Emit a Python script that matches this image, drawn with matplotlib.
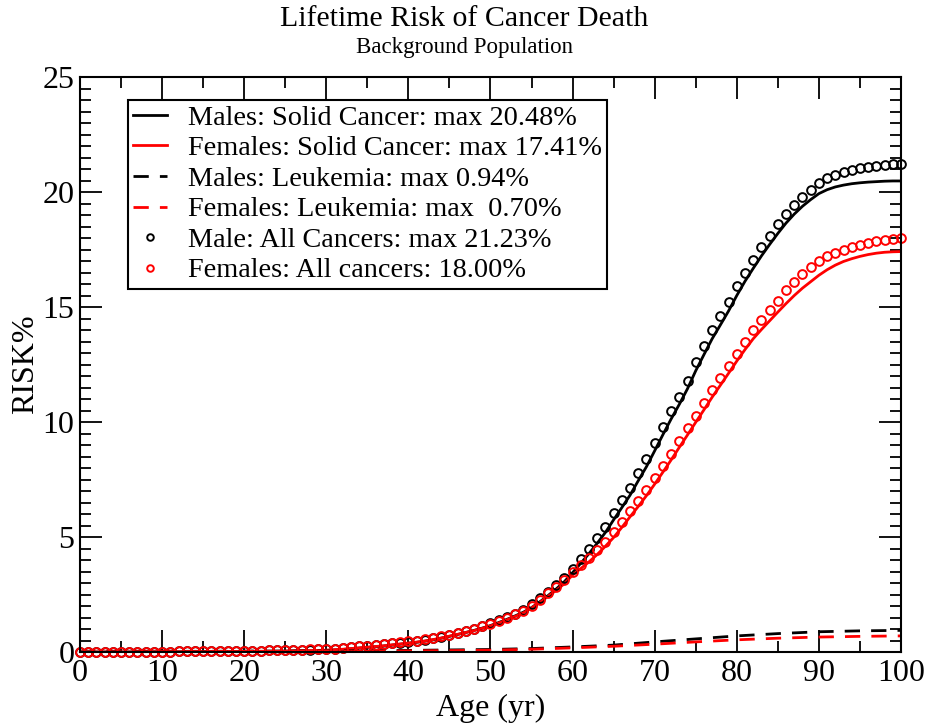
import numpy as np
import matplotlib
matplotlib.use("Agg")
import matplotlib.pyplot as plt
from matplotlib.ticker import MultipleLocator

# ages 0..100, one value per year
ages = np.arange(0, 101)

male_all = [
    0.00, 0.00, 0.01, 0.01, 0.01, 0.01, 0.01, 0.02, 0.02, 0.02,
    0.02, 0.02, 0.03, 0.03, 0.03, 0.04, 0.04, 0.04, 0.05, 0.05,
    0.05, 0.06, 0.06, 0.07, 0.07, 0.08, 0.08, 0.09, 0.10, 0.11,
    0.12, 0.14, 0.17, 0.20, 0.24, 0.27, 0.30, 0.33, 0.37, 0.41,
    0.45, 0.49, 0.54, 0.60, 0.67, 0.75, 0.84, 0.93, 1.02, 1.12,
    1.24, 1.37, 1.52, 1.67, 1.84, 2.07, 2.35, 2.62, 2.90, 3.22,
    3.62, 4.05, 4.48, 4.95, 5.45, 6.05, 6.60, 7.15, 7.80, 8.40,
    9.10, 9.80, 10.50, 11.10, 11.80, 12.60, 13.30, 14.00, 14.60, 15.20,
    15.90, 16.50, 17.05, 17.60, 18.10, 18.60, 19.05, 19.45, 19.80, 20.10,
    20.40, 20.60, 20.75, 20.87, 20.96, 21.03, 21.08, 21.13, 21.17, 21.20,
    21.23]

male_solid = [
    0.00, 0.00, 0.00, 0.00, 0.00, 0.00, 0.00, 0.01, 0.01, 0.01,
    0.01, 0.01, 0.01, 0.01, 0.01, 0.02, 0.02, 0.02, 0.02, 0.02,
    0.02, 0.03, 0.03, 0.03, 0.03, 0.04, 0.04, 0.05, 0.05, 0.06,
    0.07, 0.09, 0.11, 0.14, 0.17, 0.20, 0.23, 0.26, 0.30, 0.34,
    0.38, 0.42, 0.47, 0.53, 0.60, 0.68, 0.76, 0.85, 0.94, 1.04,
    1.15, 1.28, 1.42, 1.57, 1.73, 1.93, 2.18, 2.45, 2.74, 3.06,
    3.45, 3.86, 4.28, 4.73, 5.20, 5.75, 6.28, 6.82, 7.45, 8.06,
    8.75, 9.45, 10.13, 10.77, 11.45, 12.23, 12.93, 13.62, 14.22, 14.83,
    15.50, 16.12, 16.68, 17.22, 17.72, 18.20, 18.65, 19.04, 19.38, 19.67,
    19.93, 20.10, 20.22, 20.30, 20.36, 20.40, 20.43, 20.45, 20.47, 20.48,
    20.48]

female_all = [
    0.00, 0.00, 0.01, 0.01, 0.01, 0.01, 0.01, 0.02, 0.02, 0.02,
    0.02, 0.02, 0.03, 0.03, 0.03, 0.03, 0.04, 0.04, 0.04, 0.05,
    0.05, 0.06, 0.06, 0.07, 0.07, 0.08, 0.09, 0.10, 0.11, 0.12,
    0.13, 0.15, 0.18, 0.21, 0.25, 0.28, 0.31, 0.34, 0.38, 0.42,
    0.46, 0.50, 0.55, 0.61, 0.68, 0.76, 0.84, 0.92, 1.01, 1.11,
    1.22, 1.35, 1.49, 1.64, 1.80, 2.02, 2.28, 2.55, 2.82, 3.12,
    3.50, 3.80, 4.10, 4.43, 4.80, 5.20, 5.65, 6.12, 6.58, 7.05,
    7.55, 8.08, 8.62, 9.18, 9.72, 10.28, 10.82, 11.38, 11.90, 12.43,
    12.97, 13.50, 14.00, 14.42, 14.85, 15.28, 15.72, 16.10, 16.45, 16.75,
    17.00, 17.20, 17.35, 17.48, 17.60, 17.70, 17.78, 17.85, 17.91, 17.96,
    18.00]

female_solid = [
    0.00, 0.00, 0.00, 0.00, 0.00, 0.00, 0.00, 0.01, 0.01, 0.01,
    0.01, 0.01, 0.01, 0.01, 0.01, 0.01, 0.02, 0.02, 0.02, 0.02,
    0.02, 0.03, 0.03, 0.03, 0.03, 0.04, 0.05, 0.06, 0.06, 0.07,
    0.08, 0.10, 0.12, 0.15, 0.18, 0.21, 0.24, 0.27, 0.31, 0.35,
    0.39, 0.43, 0.48, 0.54, 0.61, 0.69, 0.77, 0.85, 0.93, 1.03,
    1.14, 1.26, 1.40, 1.55, 1.70, 1.92, 2.15, 2.42, 2.68, 2.97,
    3.35, 3.63, 3.92, 4.24, 4.60, 4.98, 5.42, 5.88, 6.33, 6.80,
    7.30, 7.82, 8.35, 8.90, 9.44, 9.99, 10.53, 11.08, 11.60, 12.12,
    12.65, 13.15, 13.62, 14.02, 14.40, 14.78, 15.15, 15.50, 15.82, 16.10,
    16.38, 16.62, 16.82, 16.98, 17.10, 17.20, 17.28, 17.34, 17.38, 17.40,
    17.41]

# leukemia read every 5 years
leuk_ages = np.arange(0, 101, 5)
male_leuk = [0.00, 0.02, 0.03, 0.03, 0.04, 0.04, 0.05, 0.06, 0.07, 0.09,
             0.11, 0.15, 0.22, 0.30, 0.44, 0.57, 0.70, 0.80, 0.88, 0.92, 0.94]
female_leuk = [0.00, 0.01, 0.02, 0.02, 0.03, 0.03, 0.04, 0.04, 0.05, 0.06,
               0.08, 0.12, 0.18, 0.25, 0.34, 0.44, 0.53, 0.60, 0.65, 0.68, 0.70]

labels = ["Males: Solid Cancer: max 20.48%",
          "Females: Solid Cancer: max 17.41%",
          "Males: Leukemia: max 0.94%",
          "Females: Leukemia: max  0.70%",
          "Male: All Cancers: max 21.23%",
          "Females: All cancers: 18.00%"]

plt.rcParams['font.family'] = ['Liberation Serif', 'DejaVu Serif']

fig = plt.figure(figsize=(9.29, 7.28), dpi=100)
ax = fig.add_axes([80/929, 1 - 652/728, 821/929, 575/728])

dash = (0, (5.5, 4))
ax.plot(ages, male_solid, color='black', lw=2, label=labels[0])
ax.plot(ages, female_solid, color='red', lw=2, label=labels[1])
ax.plot(leuk_ages, male_leuk, color='black', lw=2, ls=dash, label=labels[2])
ax.plot(leuk_ages, female_leuk, color='red', lw=2, ls=dash, label=labels[3])
ax.plot(ages, male_all, ls='none', marker='o', ms=6.3, mfc='none', mec='black',
        mew=1.4, label=labels[4], clip_on=False)
ax.plot(ages, female_all, ls='none', marker='o', ms=6.3, mfc='none', mec='red',
        mew=1.4, label=labels[5], clip_on=False)

ax.set_xlim(0, 100)
ax.set_ylim(0, 25)
ax.xaxis.set_major_locator(MultipleLocator(10))
ax.xaxis.set_minor_locator(MultipleLocator(5))
ax.yaxis.set_major_locator(MultipleLocator(5))
ax.yaxis.set_minor_locator(MultipleLocator(0.5))
ax.tick_params(which='both', direction='in', top=True, right=True, width=1.3)
ax.tick_params(which='major', length=16, labelsize=23)
ax.tick_params(axis='x', which='major', pad=5)
ax.tick_params(axis='y', which='major', pad=4)
ax.tick_params(which='minor', length=8)
for s in ax.spines.values():
    s.set_linewidth(1.5)

ax.set_xlabel("Age (yr)", fontsize=23, labelpad=4)
ax.set_ylabel("RISK%", fontsize=23, labelpad=2)

fig.text(0.5, 1 - 19/728, "Lifetime Risk of Cancer Death", ha='center', va='center', fontsize=21.5)
fig.text(0.5, 1 - 47/728, "Background Population", ha='center', va='center', fontsize=16.5)

leg = ax.legend(loc='upper left', bbox_to_anchor=(0.058, 0.96), fontsize=20.3,
                frameon=True, fancybox=False, framealpha=1, edgecolor='black',
                handlelength=1.2, handletextpad=0.75, labelspacing=0.17,
                borderpad=0.18, borderaxespad=0, markerscale=0.75)
leg.get_frame().set_linewidth(1.5)

fig.savefig("out.png", dpi=100)
